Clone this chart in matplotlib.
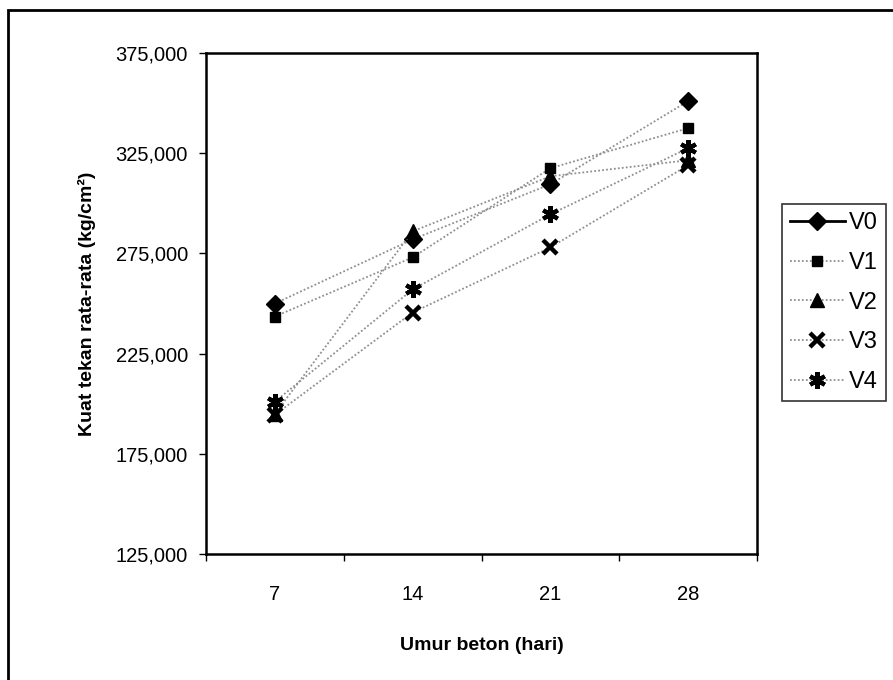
import numpy as np
import matplotlib
matplotlib.use('Agg')
from matplotlib import pyplot as plt
from matplotlib import ticker
from matplotlib.lines import Line2D
from matplotlib.patches import Rectangle

plt.rcParams['font.family'] = ['Liberation Sans', 'DejaVu Sans']

# data
days = ['7', '14', '21', '28']
v0 = [250000, 282000, 309500, 351000]
v1 = [243500, 273000, 317500, 337500]
v2 = [195000, 286000, 313500, 321500]
v3 = [194500, 245500, 278000, 319000]
v4 = [201000, 257000, 294500, 327500]
series_names = ['V0', 'V1', 'V2', 'V3', 'V4']
y_ticks = [125000, 175000, 225000, 275000, 325000, 375000]

fig = plt.figure(figsize=(8.93, 6.80), dpi=100)
ax = fig.add_axes([206 / 893, 1 - 554 / 680, 551 / 893, 501 / 680])

x = np.arange(len(days)) + 0.5
line_col = '#8f8f8f'
dots = (0, (1, 1.2))

styles = [
    dict(marker='D', ms=9, mfc='black', mec='black', mew=1),
    dict(marker='s', ms=7.5, mfc='black', mec='black', mew=1),
    dict(marker='^', ms=10, mfc='black', mec='black', mew=1),
    dict(marker='x', ms=10, mfc='black', mec='black', mew=3.2),
    dict(marker=(6, 2, 0), ms=12, mfc='black', mec='black', mew=3),
]
data = [v0, v1, v2, v3, v4]

for vals, st in zip(data, styles):
    ax.plot(x, vals, color=line_col, linestyle=dots, linewidth=1.3, zorder=2, **st)

ax.set_xlim(0, 4)
ax.set_ylim(125000, 375000)
ax.set_yticks(y_ticks)
ax.yaxis.set_major_formatter(ticker.StrMethodFormatter('{x:,.0f}'))
ax.set_xticks(x)
ax.set_xticklabels(days)
ax.set_xticks(np.arange(0, 5), minor=True)
ax.tick_params(axis='x', which='major', length=0, pad=22, labelsize=14.5)
ax.tick_params(axis='x', which='minor', length=5, width=1, direction='out')
ax.tick_params(axis='y', which='major', length=5, width=1, direction='out', pad=8, labelsize=14.5)

for sp in ax.spines.values():
    sp.set_linewidth(1.8)
    sp.set_color('black')

ax.set_xlabel('Umur beton (hari)', fontsize=14, fontweight='bold')
ax.xaxis.set_label_coords(0.5, -0.165)
ax.set_ylabel('Kuat tekan rata-rata (kg/cm²)', fontsize=14, fontweight='bold')
ax.yaxis.set_label_coords(-0.2, 0.5)

# legend with Excel-like sample lines
handles = []
for i, st in enumerate(styles):
    if i == 0:
        h = Line2D([], [], color='black', linestyle='-', linewidth=2, **st)
    else:
        h = Line2D([], [], color=line_col, linestyle=dots, linewidth=1.3, **st)
    handles.append(h)
leg = fig.legend(handles, series_names, loc='upper left',
                 bbox_to_anchor=(782 / 893, 1 - 204 / 680),
                 fontsize=17, frameon=True, fancybox=False, shadow=False,
                 handlelength=2.3, handletextpad=0.2, labelspacing=0.75,
                 borderpad=0.35, borderaxespad=0)
leg.get_frame().set_edgecolor('black')
leg.get_frame().set_linewidth(1.2)

# outer chart frame
frame = Rectangle((8 / 893, -0.05), 1.2, 1 - 10 / 680 + 0.05, transform=fig.transFigure,
                  fill=False, edgecolor='black', linewidth=2, clip_on=False)
fig.patches.append(frame)

fig.savefig('out.png', dpi=100)
